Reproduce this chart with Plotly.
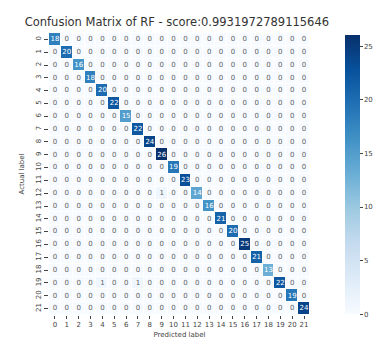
import plotly.graph_objects as go

labels = [str(i) for i in range(22)]
diag_values = [18, 20, 16, 18, 20, 22, 15, 22, 24, 26, 19, 23, 14, 16, 21, 20, 25, 21, 13, 22, 19, 24]
off_rows = [12, 19, 19]
off_cols = [9, 4, 7]
off_vals = [1, 1, 1]
score_text = "0.9931972789115646"

n = len(labels)
z = [[0] * n for _ in range(n)]
for i, v in enumerate(diag_values):
    z[i][i] = v
for r, c, v in zip(off_rows, off_cols, off_vals):
    z[r][c] = v

blues = [
    [0.0, "#f7fbff"], [0.125, "#deebf7"], [0.25, "#c6dbef"], [0.375, "#9ecae1"],
    [0.5, "#6baed6"], [0.625, "#4292c6"], [0.75, "#2171b5"], [0.875, "#08519c"],
    [1.0, "#08306b"],
]
zmax = 26

xs, ys, ts, cs = [], [], [], []
for i in range(n):
    for j in range(n):
        xs.append(j)
        ys.append(i)
        ts.append(str(z[i][j]))
        cs.append("white" if z[i][j] / zmax > 0.45 else "#606060")

fig = go.Figure()
fig.add_trace(go.Heatmap(
    z=z, x=list(range(n)), y=list(range(n)),
    colorscale=blues, zmin=0, zmax=zmax, xgap=1, ygap=1,
    colorbar=dict(
        thickness=15, lenmode="pixels", len=299, x=1.097, xanchor="left",
        y=0.497, yanchor="middle", outlinewidth=0,
        tickvals=[0, 5, 10, 15, 20, 25], ticks="outside", ticklen=3,
        tickfont=dict(size=7, color="#444"),
    ),
    hoverinfo="skip",
))
fig.add_trace(go.Scatter(
    x=xs, y=ys, text=ts, mode="text",
    textfont=dict(size=7, color=cs, family="DejaVu Sans"),
    hoverinfo="skip", showlegend=False,
))
fig.update_layout(
    width=388, height=341,
    margin=dict(l=41, r=59, t=25, b=23),
    paper_bgcolor="white", plot_bgcolor="white",
    font=dict(family="DejaVu Sans", color="#333"),
    title=dict(text="Confusion Matrix of RF - score:" + score_text,
               x=0.49, xref="paper", y=0.96, yanchor="middle",
               font=dict(size=11.5, color="#333")),
    xaxis=dict(tickvals=list(range(n)), ticktext=labels, tickfont=dict(size=7, color="#444"),
               ticks="outside", ticklen=3, range=[-0.5, n - 0.5], showgrid=False, zeroline=False,
               title=dict(text="Predicted label", font=dict(size=7, color="#444"), standoff=3)),
    yaxis=dict(tickvals=list(range(n)), ticktext=labels, tickfont=dict(size=7, color="#444"),
               ticks="outside", ticklen=4, range=[n - 0.5, -0.5], tickangle=-90, showgrid=False,
               zeroline=False,
               title=dict(text="Actual label", font=dict(size=7, color="#444"), standoff=9)),
)
fig.write_html("out.html")
